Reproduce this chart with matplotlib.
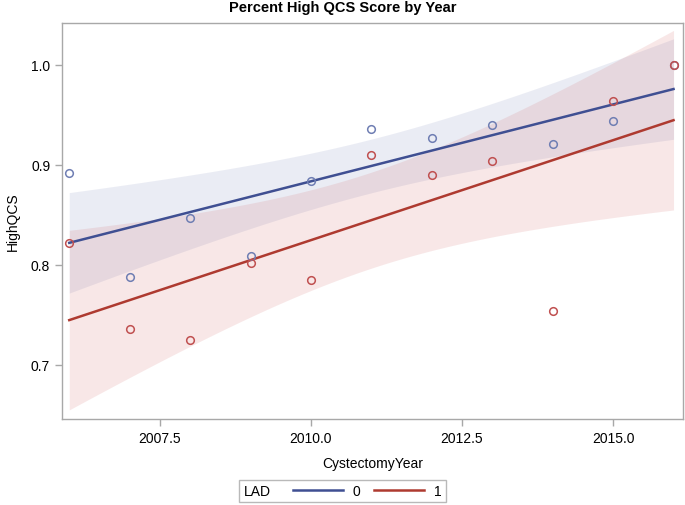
import matplotlib
matplotlib.use("Agg")
import matplotlib.pyplot as plt
from matplotlib.offsetbox import HPacker
import numpy as np

plt.rcParams['font.family'] = ['Liberation Sans', 'DejaVu Sans']

# values
years = [2006, 2007, 2008, 2009, 2010, 2011, 2012, 2013, 2014, 2015, 2016]
high_qcs_0 = [0.892, 0.788, 0.847, 0.809, 0.884, 0.936, 0.927, 0.940, 0.921, 0.944, 1.000]
high_qcs_1 = [0.822, 0.736, 0.725, 0.802, 0.785, 0.910, 0.890, 0.904, 0.754, 0.964, 1.000]
group_names = ["0", "1"]
x_ticks = [2007.5, 2010.0, 2012.5, 2015.0]
y_ticks = [0.7, 0.8, 0.9, 1.0]

line_colors = ["#3F4F92", "#AE3A30"]
mark_colors = ["#6F7EB3", "#C05050"]
band_colors = ["#6F7EB3", "#D05B5B"]

T975_DF9 = 2.262  # t quantile for 95% CI, n-2 = 9


def fit_band(x, y, grid):
    x = np.asarray(x, float)
    y = np.asarray(y, float)
    b, a = np.polyfit(x, y, 1)
    resid = y - (a + b * x)
    n = len(x)
    s = np.sqrt(np.sum(resid ** 2) / (n - 2))
    sxx = np.sum((x - x.mean()) ** 2)
    se = s * np.sqrt(1.0 / n + (grid - x.mean()) ** 2 / sxx)
    fit = a + b * grid
    return fit, fit - T975_DF9 * se, fit + T975_DF9 * se


fig = plt.figure(figsize=(6.85, 5.06), dpi=100)
ax = fig.add_axes([0.0905, 0.170, 0.906, 0.783])

grid = np.linspace(years[0], years[-1], 200)
series = [high_qcs_0, high_qcs_1]

# bands first
for i, ys in enumerate(series):
    fit, lo, hi = fit_band(years, ys, grid)
    ax.fill_between(grid, lo, hi, color=band_colors[i], alpha=0.14, lw=0)

handles = []
for i, ys in enumerate(series):
    fit, lo, hi = fit_band(years, ys, grid)
    h, = ax.plot(grid, fit, color=line_colors[i], lw=1.8, label=group_names[i])
    handles.append(h)

for i, ys in enumerate(series):
    ax.plot(years, ys, 'o', mfc='none', mec=mark_colors[i], ms=5.5, mew=1.1)

ax.set_xlim(2005.88, 2016.15)
ax.set_ylim(0.646, 1.042)
ax.set_xticks(x_ticks)
ax.set_xticklabels([f"{v:.1f}" for v in x_ticks])
ax.set_yticks(y_ticks)
ax.set_yticklabels([f"{v:.1f}" for v in y_ticks])

for sp in ax.spines.values():
    sp.set_color("#A8A8A8")
    sp.set_linewidth(1.0)
ax.tick_params(colors="#A8A8A8", labelcolor="black", labelsize=10, length=5, width=1)

ax.set_xlabel("CystectomyYear", fontsize=10, labelpad=8)
ax.set_ylabel("HighQCS", fontsize=10, labelpad=8)
fig.text(0.5, 0.984, "Percent High QCS Score by Year", fontsize=10.5,
         fontweight='bold', ha='center', va='center')

leg = fig.legend(handles=handles, labels=group_names, title="LAD", loc='center',
                 bbox_to_anchor=(0.5, 0.028), ncol=2, frameon=True, fontsize=10,
                 title_fontsize=10, handlelength=3.6, columnspacing=1.0,
                 handletextpad=0.7, borderpad=0.3, fancybox=False)
leg.get_frame().set_edgecolor("#A8A8A8")
leg.get_frame().set_linewidth(1.0)
# put the title on the left like SAS does
title_box = leg._legend_box._children[0]
body = leg._legend_box._children[1]
leg._legend_box._children = [HPacker(children=[title_box, body], pad=0, sep=16, align="center")]

fig.savefig("out.png", dpi=100)
